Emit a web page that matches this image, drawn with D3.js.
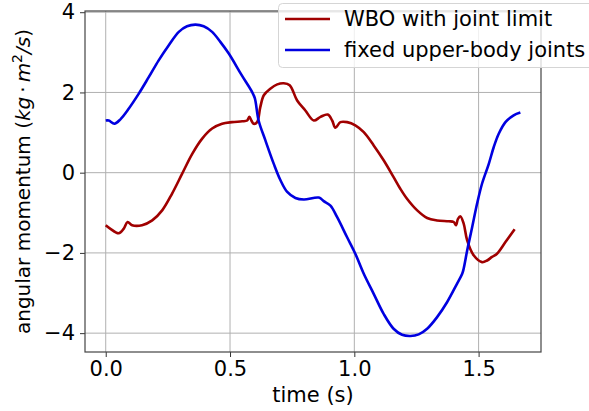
<!DOCTYPE html>
<html>
<head>
<meta charset="utf-8">
<script src="https://cdn.jsdelivr.net/npm/d3@7"></script>
<style>
  body{margin:0;background:#fff;}
  text{font-family:"DejaVu Sans",sans-serif;fill:#000;}
</style>
</head>
<body>
<div class="container"></div>
<script>
// time (s) and angular momentum values
const wboTime=[0,0.019,0.052,0.072,0.088,0.106,0.146,0.187,0.227,0.267,0.307,0.348,0.388,0.428,0.468,0.508,0.549,0.569,0.578,0.586,0.595,0.609,0.622,0.636,0.662,0.690,0.716,0.740,0.770,0.803,0.837,0.864,0.893,0.911,0.924,0.944,0.971,1.004,1.038,1.078,1.118,1.158,1.185,1.212,1.253,1.293,1.333,1.380,1.400,1.409,1.417,1.427,1.440,1.454,1.480,1.514,1.534,1.554,1.574,1.608,1.645];
const wboVal=[-1.31,-1.40,-1.51,-1.40,-1.23,-1.31,-1.31,-1.19,-0.94,-0.52,-0.03,0.47,0.85,1.10,1.22,1.26,1.28,1.30,1.39,1.30,1.22,1.26,1.64,1.93,2.09,2.20,2.23,2.18,1.80,1.55,1.30,1.39,1.45,1.30,1.12,1.26,1.26,1.18,1.01,0.68,0.31,-0.11,-0.40,-0.65,-0.94,-1.13,-1.19,-1.21,-1.23,-1.31,-1.15,-1.09,-1.27,-1.69,-2.06,-2.23,-2.19,-2.10,-2.02,-1.73,-1.41];

const fixedTime=[0,0.012,0.035,0.059,0.093,0.133,0.173,0.213,0.253,0.294,0.327,0.361,0.394,0.428,0.461,0.495,0.545,0.589,0.600,0.615,0.642,0.676,0.703,0.730,0.763,0.797,0.857,0.877,0.904,0.931,0.971,1.004,1.038,1.078,1.118,1.158,1.192,1.226,1.259,1.293,1.333,1.373,1.413,1.434,1.440,1.454,1.474,1.494,1.514,1.541,1.561,1.581,1.608,1.641,1.668];
const fixedVal=[1.30,1.30,1.22,1.33,1.60,1.97,2.38,2.80,3.17,3.51,3.65,3.69,3.65,3.51,3.26,2.97,2.45,2.01,1.85,1.30,0.81,0.22,-0.19,-0.48,-0.63,-0.67,-0.62,-0.71,-0.82,-1.11,-1.61,-2.02,-2.52,-3.02,-3.52,-3.89,-4.04,-4.07,-4.03,-3.89,-3.60,-3.23,-2.77,-2.52,-2.39,-1.94,-1.36,-0.77,-0.27,0.22,0.64,0.97,1.26,1.43,1.50];

const xTicks=[0,0.5,1.0,1.5];
const yTicks=[-4,-2,0,2,4];
const seriesNames=["WBO with joint limit","fixed upper-body joints"];
const seriesColors=["#a00000","#0000e0"];

const W=589,H=411;
const mLeft=85,mRight=541,mTop=11,mBottom=352;
const fs="21px";

const svg=d3.select('.container').append("svg")
  .attr("width",W).attr("height",H);

const x=d3.scaleLinear().domain([-0.0834,1.751]).range([mLeft,mRight]);
const y=d3.scaleLinear().domain([-4.47,4.03]).range([mBottom,mTop]);

// grid
svg.append("g").selectAll("line").data(xTicks).enter().append("line")
  .attr("x1",d=>x(d)).attr("x2",d=>x(d)).attr("y1",mTop).attr("y2",mBottom)
  .attr("stroke","#b0b0b0").attr("stroke-width",1);
svg.append("g").selectAll("line").data(yTicks).enter().append("line")
  .attr("x1",mLeft).attr("x2",mRight).attr("y1",d=>y(d)).attr("y2",d=>y(d))
  .attr("stroke","#b0b0b0").attr("stroke-width",1);

// axes
let fmtX=d=>d.toFixed(1);
let fmtY=d=>d<0?"\u2212"+Math.abs(d):String(d);

let xAxis=svg.append("g").attr("transform",`translate(0,${mBottom})`)
  .call(d3.axisBottom(x).tickValues(xTicks).tickFormat(fmtX).tickSize(5).tickPadding(4));
let yAxis=svg.append("g").attr("transform",`translate(${mLeft},0)`)
  .call(d3.axisLeft(y).tickValues(yTicks).tickFormat(fmtY).tickSize(5).tickPadding(5));
[xAxis,yAxis].forEach(a=>{
  a.select(".domain").remove();
  a.selectAll("line").attr("stroke","#333");
  a.selectAll("text").style("font-family","DejaVu Sans").style("font-size",fs).attr("fill","#000");
});

// lines
let line=d3.line().curve(d3.curveCatmullRom.alpha(0.5)).x(d=>x(d[0])).y(d=>y(d[1]));
let series=[d3.zip(wboTime,wboVal),d3.zip(fixedTime,fixedVal)];
svg.append("g").selectAll("path").data(series).enter().append("path")
  .attr("d",line)
  .attr("fill","none")
  .attr("stroke",(d,i)=>seriesColors[i])
  .attr("stroke-width",2.6)
  .attr("stroke-linejoin","round");

// frame
svg.append("rect").attr("x",mLeft).attr("y",mTop).attr("width",mRight-mLeft).attr("height",mBottom-mTop)
  .attr("fill","none").attr("stroke","#444").attr("stroke-width",1.2);

// labels
svg.append("text").attr("x",(mLeft+mRight)/2).attr("y",402).attr("text-anchor","middle")
  .style("font-size",fs).text("time (s)");

let yl=svg.append("text").attr("transform",`translate(30,${(mTop+mBottom)/2}) rotate(-90)`)
  .attr("text-anchor","middle").style("font-size","20px");
yl.append("tspan").text("angular momentum (");
yl.append("tspan").style("font-style","italic").text("kg");
yl.append("tspan").text("\u2009\u00b7\u2009");
yl.append("tspan").style("font-style","italic").text("m");
yl.append("tspan").attr("dy",-8).style("font-size","14px").text("2");
yl.append("tspan").attr("dy",8).style("font-style","italic").text("/s");
yl.append("tspan").text(")");

// legend
let lg=svg.append("g");
lg.append("rect").attr("x",278.5).attr("y",3.5).attr("width",330).attr("height",64).attr("rx",4)
  .attr("fill","#fff").attr("fill-opacity",0.8).attr("stroke","#d5d5d5");
seriesNames.forEach((n,i)=>{
  let yy=19+i*31;
  lg.append("line").attr("x1",285).attr("x2",330).attr("y1",yy).attr("y2",yy)
    .attr("stroke",seriesColors[i]).attr("stroke-width",2.6);
  lg.append("text").attr("x",344).attr("y",yy+7).style("font-size",fs).text(n);
});
</script>
</body>
</html>
